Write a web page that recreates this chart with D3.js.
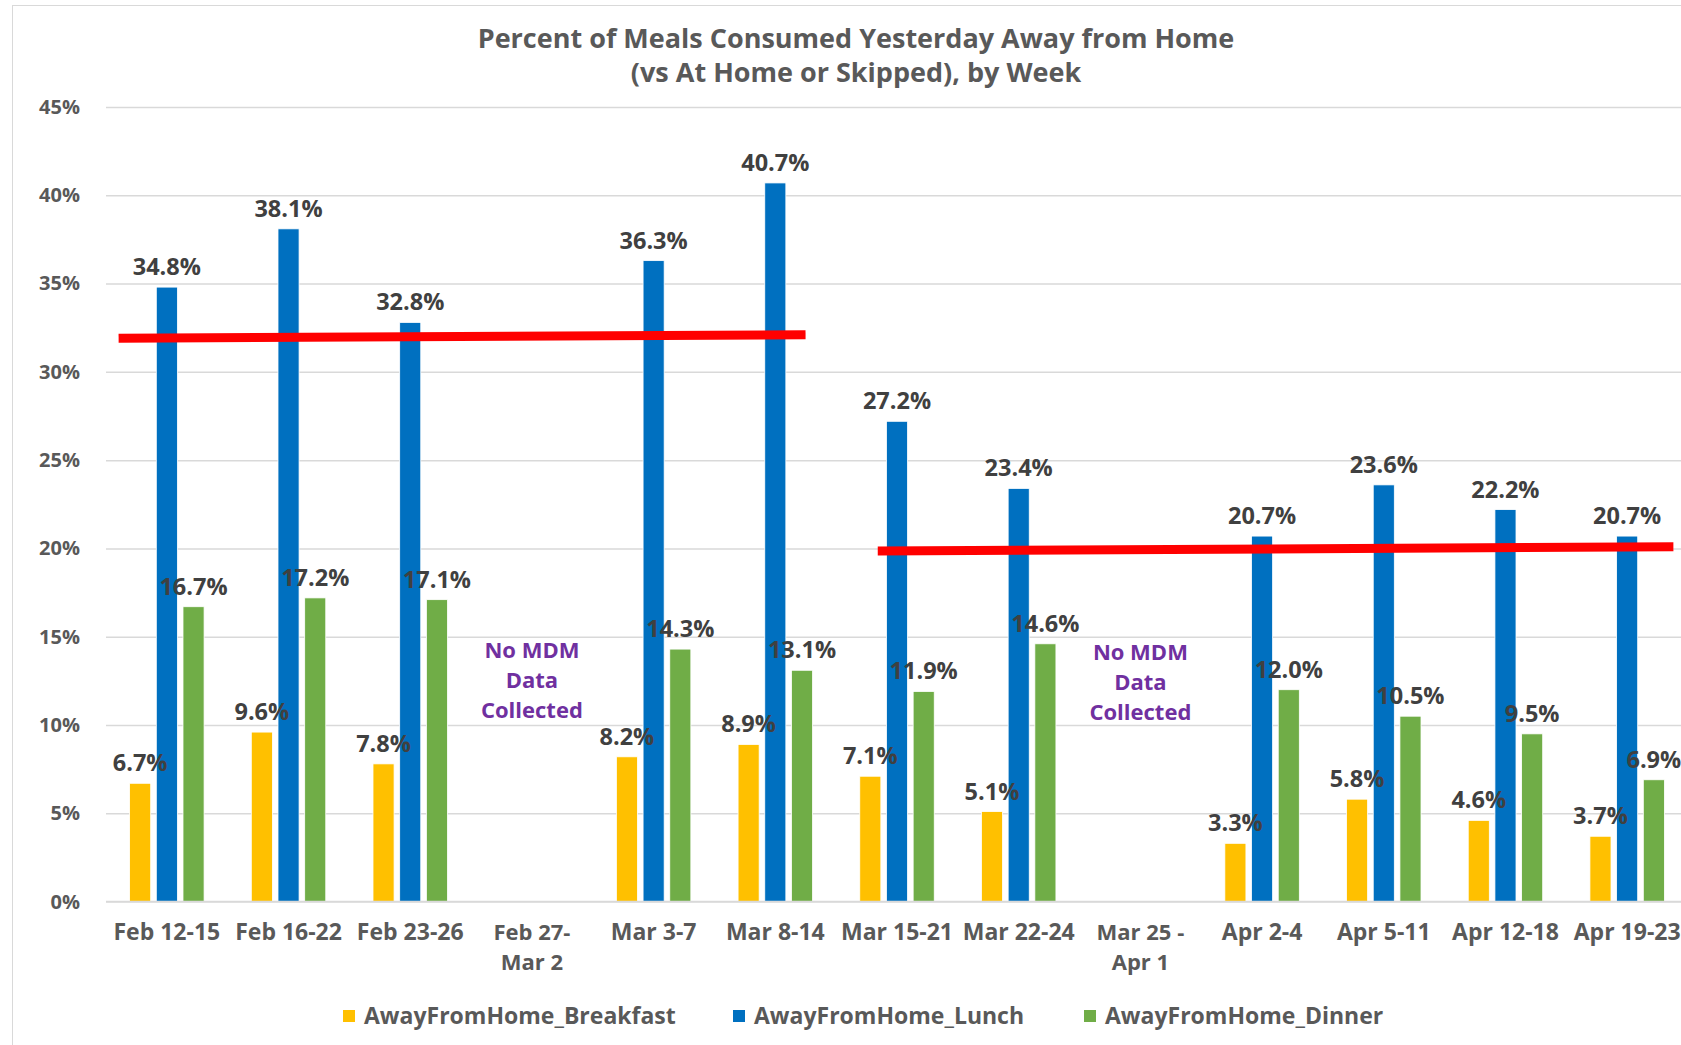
<!DOCTYPE html>
<html>
<head>
<meta charset="utf-8">
<script src="https://cdn.jsdelivr.net/npm/d3@7"></script>
<style>
  body { margin: 0; background: #fff; }
  svg text { font-family: "Open Sans", sans-serif; font-weight: 700; }
</style>
</head>
<body>
<div id="chart"></div>
<script>
const width = 1681;
const height = 1045;

// data
const weeks = ["Feb 12-15", "Feb 16-22", "Feb 23-26", "Feb 27-\nMar 2", "Mar 3-7", "Mar 8-14",
  "Mar 15-21", "Mar 22-24", "Mar 25 -\nApr 1", "Apr 2-4", "Apr 5-11", "Apr 12-18", "Apr 19-23"];
const seriesNames = ["AwayFromHome_Breakfast", "AwayFromHome_Lunch", "AwayFromHome_Dinner"];
const breakfast = [6.7, 9.6, 7.8, null, 8.2, 8.9, 7.1, 5.1, null, 3.3, 5.8, 4.6, 3.7];
const lunch = [34.8, 38.1, 32.8, null, 36.3, 40.7, 27.2, 23.4, null, 20.7, 23.6, 22.2, 20.7];
const dinner = [16.7, 17.2, 17.1, null, 14.3, 13.1, 11.9, 14.6, null, 12.0, 10.5, 9.5, 6.9];
const yTicks = [0, 5, 10, 15, 20, 25, 30, 35, 40, 45];
const colors = ["#FFC000", "#0070C0", "#70AD47"];

// red reference lines: from week, to week, value at start and end
const refLines = [
  {from: "Feb 12-15", to: "Mar 8-14", v1: 31.9, v2: 32.1, dx1: -11, dx2: -7},
  {from: "Mar 15-21", to: "Apr 19-23", v1: 19.85, v2: 20.1, dx1: 18, dx2: 9}
];
const noDataWeeks = ["Feb 27-\nMar 2", "Mar 25 -\nApr 1"];
const noDataText = ["No MDM", "Data", "Collected"];

const margin = {top: 107, left: 106, bottom: 1045 - 901.6};
const plotRight = 1688;

const svg = d3.select("#chart").append("svg")
  .attr("width", width)
  .attr("height", height);

// chart border
svg.append("rect")
  .attr("x", 12.5).attr("y", 5.5)
  .attr("width", width + 20).attr("height", height + 20)
  .attr("fill", "none").attr("stroke", "#d9d9d9").attr("stroke-width", 1);

const y = d3.scaleLinear().domain([0, 45]).range([901.6, margin.top]);
const x0 = d3.scaleBand().domain(weeks).range([margin.left, plotRight])
  .paddingInner(0.388).paddingOuter(0.194);
const x1 = d3.scaleBand().domain(seriesNames).range([0, x0.bandwidth()]).paddingInner(0.21);

// title
svg.append("text")
  .attr("x", 856).attr("y", 48)
  .attr("text-anchor", "middle")
  .attr("fill", "#595959").attr("font-size", 27)
  .text("Percent of Meals Consumed Yesterday Away from Home");
svg.append("text")
  .attr("x", 856).attr("y", 82)
  .attr("text-anchor", "middle")
  .attr("fill", "#595959").attr("font-size", 27)
  .text("(vs At Home or Skipped), by Week");

// gridlines and y axis
const yAxis = d3.axisLeft(y).tickValues(yTicks).tickSize(-(width - margin.left)).tickFormat(d => d + "%");
const gy = svg.append("g")
  .attr("transform", "translate(" + margin.left + ",0)")
  .call(yAxis);
gy.select(".domain").remove();
gy.selectAll(".tick line").attr("stroke", "#d9d9d9").attr("stroke-width", 1.5);
gy.selectAll(".tick text")
  .attr("x", -26)
  .attr("fill", "#595959")
  .attr("font-size", 20)
  .attr("font-family", "Open Sans, sans-serif");

// bars
const series = [breakfast, lunch, dinner];
const bars = [];
series.forEach((vals, si) => {
  vals.forEach((v, i) => {
    if (v != null) bars.push({week: weeks[i], name: seriesNames[si], value: v, color: colors[si]});
  });
});

svg.append("g").selectAll("rect")
  .data(bars)
  .join("rect")
  .attr("x", d => x0(d.week) + x1(d.name))
  .attr("y", d => y(d.value))
  .attr("width", x1.bandwidth())
  .attr("height", d => y(0) - y(d.value))
  .attr("fill", d => d.color)
  .attr("stroke", "#ffffff")
  .attr("stroke-width", 0.8);

// x axis
const xAxis = d3.axisBottom(x0).tickSize(0).tickPadding(0);
const gx = svg.append("g")
  .attr("transform", "translate(0," + y(0) + ")")
  .call(xAxis);
gx.select(".domain").attr("stroke", "#d9d9d9").attr("stroke-width", 1.5)
  .attr("d", "M" + margin.left + ",0H" + width);
gx.selectAll(".tick text").each(function(d) {
  const t = d3.select(this);
  const lines = d.split("\n");
  t.text(null)
    .attr("fill", "#595959")
    .attr("font-size", lines.length > 1 ? 22 : 23)
    .attr("font-family", "Open Sans, sans-serif")
    .attr("y", 0).attr("dy", null);
  lines.forEach((line, k) => {
    t.append("tspan").attr("x", 0).attr("y", 38 + k * 30).text(line);
  });
});

// data labels
svg.append("g").selectAll("text")
  .data(bars)
  .join("text")
  .attr("x", d => x0(d.week) + x1(d.name) + x1.bandwidth() / 2)
  .attr("y", d => y(d.value) - 12)
  .attr("text-anchor", "middle")
  .attr("fill", "#404040")
  .attr("font-size", 23.5)
  .text(d => d.value.toFixed(1) + "%");

// no data notes
noDataWeeks.forEach((w, i) => {
  noDataText.forEach((line, k) => {
    svg.append("text")
      .attr("x", x0(w) + x0.bandwidth() / 2)
      .attr("y", y(13.7 - i * 0.12) - 2 + k * 30)
      .attr("text-anchor", "middle")
      .attr("fill", "#7030A0")
      .attr("font-size", 22)
      .text(line);
  });
});

// red lines
svg.append("g").selectAll("line")
  .data(refLines)
  .join("line")
  .attr("x1", d => x0(d.from) + d.dx1)
  .attr("x2", d => x0(d.to) + x0.bandwidth() + d.dx2)
  .attr("y1", d => y(d.v1))
  .attr("y2", d => y(d.v2))
  .attr("stroke", "#FF0000")
  .attr("stroke-width", 9);

// legend
const legendX = [343, 733, 1084];
const legend = svg.append("g").selectAll("g")
  .data(seriesNames)
  .join("g")
  .attr("transform", (d, i) => "translate(" + legendX[i] + ",1016)");
legend.append("rect")
  .attr("x", 0).attr("y", -6)
  .attr("width", 12).attr("height", 12)
  .attr("fill", (d, i) => colors[i]);
legend.append("text")
  .attr("x", 21).attr("y", 8)
  .attr("fill", "#595959")
  .attr("font-size", 23)
  .text(d => d);
</script>
</body>
</html>
